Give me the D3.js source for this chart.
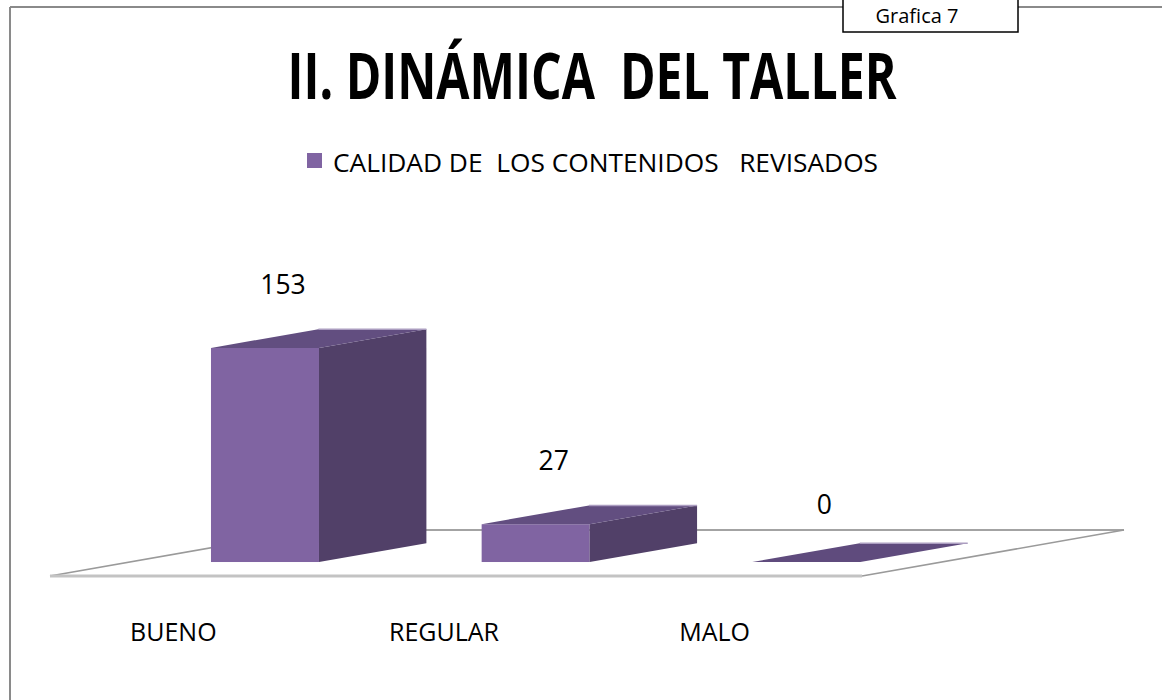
<!DOCTYPE html>
<html lang="es">
<head>
  <meta charset="utf-8">
  <title>II. Dinámica del taller</title>
  <script src="https://d3js.org/d3.v7.min.js"></script>
  <style>
    body { margin: 0; padding: 0; background: #fff; }
    svg { display: block; font-family: "Open Sans", "DejaVu Sans", sans-serif; }
  </style>
</head>
<body>
  <svg id="chart" width="1162" height="700"></svg>

  <script>
    // data
    const categories = ["BUENO", "REGULAR", "MALO"];
    const values = [153, 27, 0];
    const seriesName = "CALIDAD DE  LOS CONTENIDOS   REVISADOS";
    const title = "II. DINÁMICA  DEL TALLER";
    const tag = "Grafica 7";

    const width = 1162, height = 700;
    const svg = d3.select("#chart").attr("width", width).attr("height", height);

    // floor plane: front edge and depth vector
    const floorLeft = 50, floorRight = 862, floorY = 576;
    const depth = [262, -46];
    const barDepth = 0.41, barStart = 0.304;   // fractions of floor depth
    const barWidth = 108;

    const x = d3.scaleBand().domain(categories).range([floorLeft, floorRight]).padding(0);
    const baseY = floorY + depth[1] * barStart;
    const y = d3.scaleLinear().domain([0, d3.max(values)]).range([baseY, 348]);

    const dx = depth[0] * barDepth, dy = depth[1] * barDepth;
    const barX = c => x(c) + (x.bandwidth() - barWidth) / 2 + depth[0] * barStart;

    // frame
    svg.append("line").attr("x1", 10).attr("x2", 10).attr("y1", 7).attr("y2", height)
      .attr("stroke", "#8a8a8a").attr("stroke-width", 2);
    svg.append("line").attr("x1", 10).attr("x2", width).attr("y1", 7).attr("y2", 7)
      .attr("stroke", "#8a8a8a").attr("stroke-width", 2);
    svg.append("rect").attr("x", 843).attr("y", -3).attr("width", 175).attr("height", 35)
      .attr("fill", "#fff").attr("stroke", "#000").attr("stroke-width", 1.5);
    svg.append("text").attr("x", 917).attr("y", 23).attr("text-anchor", "middle")
      .attr("font-size", 20).attr("fill", "#000").text(tag);

    // title
    svg.append("text").attr("x", 592).attr("y", 99).attr("text-anchor", "middle")
      .attr("font-size", 64).attr("font-weight", "bold")
      .attr("textLength", 609).attr("lengthAdjust", "spacingAndGlyphs")
      .style("white-space", "pre").text(title);

    // legend
    svg.append("rect").attr("x", 307).attr("y", 153).attr("width", 15).attr("height", 15)
      .attr("fill", "#8064a2");
    svg.append("text").attr("x", 333).attr("y", 172).attr("font-size", 26)
      .attr("textLength", 545).attr("lengthAdjust", "spacingAndGlyphs")
      .style("white-space", "pre").text(seriesName);

    // floor
    const floor = svg.append("g");
    floor.append("line")
      .attr("x1", floorLeft + depth[0]).attr("x2", floorRight + depth[0])
      .attr("y1", floorY + depth[1]).attr("y2", floorY + depth[1])
      .attr("stroke", "#a3a3a3").attr("stroke-width", 2);
    floor.append("line")
      .attr("x1", floorLeft).attr("y1", floorY)
      .attr("x2", floorLeft + depth[0]).attr("y2", floorY + depth[1])
      .attr("stroke", "#9a9a9a").attr("stroke-width", 1.6);
    floor.append("line")
      .attr("x1", floorRight).attr("y1", floorY)
      .attr("x2", floorRight + depth[0]).attr("y2", floorY + depth[1])
      .attr("stroke", "#9a9a9a").attr("stroke-width", 1.6);
    floor.append("line")
      .attr("x1", floorLeft).attr("x2", floorRight).attr("y1", floorY).attr("y2", floorY)
      .attr("stroke", "#c3c3c3").attr("stroke-width", 3);

    // bars
    const bars = svg.append("g").selectAll("g")
      .data(categories.map((c, i) => ({ cat: c, value: values[i] })))
      .join("g");

    bars.filter(d => d.value > 0).append("rect")
      .attr("x", d => barX(d.cat))
      .attr("y", d => y(d.value))
      .attr("width", barWidth)
      .attr("height", d => baseY - y(d.value))
      .attr("fill", "#8064a2");

    bars.filter(d => d.value > 0).append("polygon")
      .attr("points", d => {
        const x0 = barX(d.cat) + barWidth, yt = y(d.value);
        return [[x0, baseY], [x0 + dx, baseY + dy], [x0 + dx, yt + dy], [x0, yt]].join(" ");
      })
      .attr("fill", "#514068");

    bars.append("polygon")
      .attr("points", d => {
        const x0 = barX(d.cat), yt = y(d.value);
        return [[x0, yt], [x0 + dx, yt + dy], [x0 + barWidth + dx, yt + dy], [x0 + barWidth, yt]].join(" ");
      })
      .attr("fill", d => d.value > 0 ? "#624e80" : "#5f4b7d");

    bars.append("line")
      .attr("x1", d => barX(d.cat) + dx).attr("x2", d => barX(d.cat) + barWidth + dx)
      .attr("y1", d => y(d.value) + dy).attr("y2", d => y(d.value) + dy)
      .attr("stroke", "#ab9dc0").attr("stroke-width", 1.5);

    // value labels
    bars.append("text")
      .attr("x", d => barX(d.cat) + barWidth / 2 + 18)
      .attr("y", d => y(d.value) - (d.value > 0 ? 54 : 48))
      .attr("text-anchor", "middle")
      .attr("font-size", 26.5)
      .text(d => d.value);

    // category labels
    svg.append("g").selectAll("text")
      .data(categories)
      .join("text")
      .attr("x", d => x(d) + x.bandwidth() / 2 - 12)
      .attr("y", 641)
      .attr("text-anchor", "middle")
      .attr("font-size", 25)
      .text(d => d);
  </script>
</body>
</html>
